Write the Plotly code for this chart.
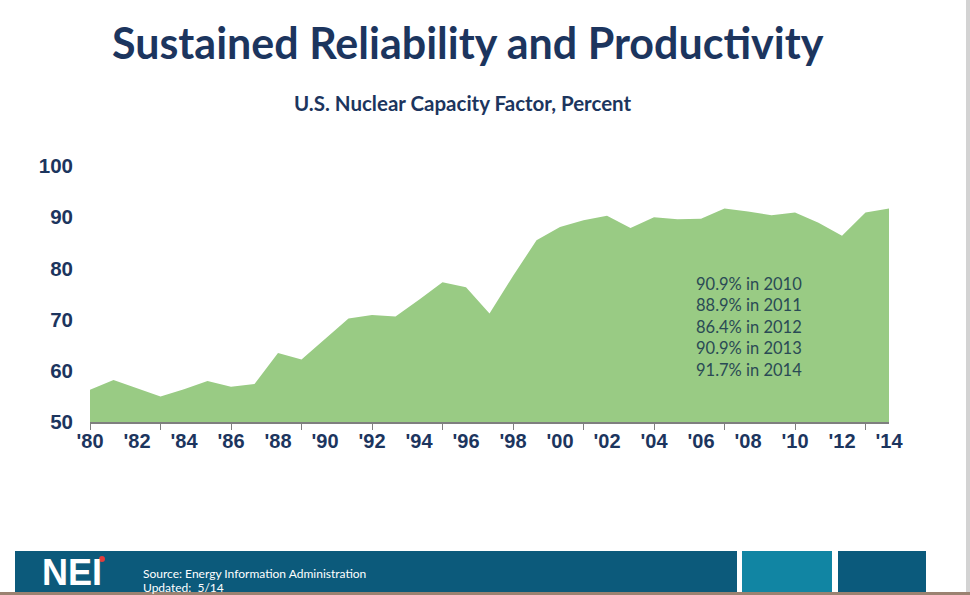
import plotly.graph_objects as go

# U.S. nuclear capacity factor, percent
years = list(range(1980, 2015))
capacity = [56.3, 58.2, 56.6, 55.0, 56.4, 58.0, 56.9, 57.4, 63.5, 62.2,
            66.2, 70.2, 70.9, 70.6, 73.9, 77.3, 76.3, 71.2, 78.5, 85.5,
            88.1, 89.4, 90.3, 87.9, 90.0, 89.6, 89.7, 91.7, 91.1, 90.4,
            90.9, 88.9, 86.4, 90.9, 91.7]

label_years = list(range(1980, 2015, 2))
label_text = ["'%02d" % (y % 100) for y in label_years]
y_ticks = [50, 60, 70, 80, 90, 100]

note_lines = ["90.9% in 2010", "88.9% in 2011", "86.4% in 2012",
              "90.9% in 2013", "91.7% in 2014"]

NAVY = "#1C355E"
W, H = 970, 595
L, R, T, B = 90, 81, 166, 173
PW, PH = W - L - R, H - T - B


def px(x):
    return (x - L) / PW


def py(y):
    return (H - B - y) / PH


fig = go.Figure()
fig.add_trace(go.Scatter(
    x=years, y=capacity, mode="lines", fill="tozeroy",
    fillcolor="#99CB84", line=dict(width=0, color="#99CB84"),
    hoverinfo="x+y", showlegend=False,
))
# invisible trace so the tick-mark axis is drawn
fig.add_trace(go.Scatter(x=[years[0], years[-1]], y=[50, 50], xaxis="x2",
                         mode="lines", line=dict(width=0), showlegend=False,
                         hoverinfo="skip"))

shapes = [
    # footer band
    dict(type="rect", xref="paper", yref="paper", x0=px(15), x1=px(737),
         y0=py(551), y1=py(600), fillcolor="#0C5A7B", line_width=0, layer="above"),
    dict(type="rect", xref="paper", yref="paper", x0=px(742), x1=px(832),
         y0=py(551), y1=py(600), fillcolor="#1185A3", line_width=0, layer="above"),
    dict(type="rect", xref="paper", yref="paper", x0=px(838), x1=px(926),
         y0=py(551), y1=py(600), fillcolor="#0B5A7C", line_width=0, layer="above"),
    dict(type="rect", xref="paper", yref="paper", x0=px(-5), x1=px(975),
         y0=py(592), y1=py(600), fillcolor="#9B8271", line_width=0, layer="above"),
    dict(type="rect", xref="paper", yref="paper", x0=px(966), x1=px(975),
         y0=py(-5), y1=py(592), fillcolor="#D3D3D3", line_width=0, layer="above"),
    dict(type="circle", xref="paper", yref="paper", x0=px(99), x1=px(105),
         y0=py(562), y1=py(556), fillcolor="#E23B3B", line_width=0, layer="above"),
]

annotations = [
    dict(text="<b>Sustained Reliability and Productivity</b>", x=px(468), y=py(42),
         xref="paper", yref="paper", showarrow=False, xanchor="center", yanchor="middle",
         font=dict(family="Lato", size=43, color=NAVY)),
    dict(text="<b>U.S. Nuclear Capacity Factor, Percent</b>", x=px(463), y=py(103),
         xref="paper", yref="paper", showarrow=False, xanchor="center", yanchor="middle",
         font=dict(family="Lato", size=20.5, color=NAVY)),
    dict(text="<br>".join(note_lines), x=px(694), y=py(272), xref="paper", yref="paper",
         showarrow=False, xanchor="left", yanchor="top", align="left",
         font=dict(family="Lato", size=16.5, color="#2A4A55")),
    dict(text="<b>NEI</b>", x=px(40), y=py(595), xref="paper", yref="paper",
         showarrow=False, xanchor="left", yanchor="bottom",
         font=dict(family="Liberation Sans", size=36, color="white")),
    dict(text="Source: Energy Information Administration", x=px(141), y=py(573),
         xref="paper", yref="paper", showarrow=False, xanchor="left", yanchor="middle",
         font=dict(family="Lato", size=12, color="white")),
    dict(text="Updated:  5/14", x=px(141), y=py(587),
         xref="paper", yref="paper", showarrow=False, xanchor="left", yanchor="middle",
         font=dict(family="Lato", size=12, color="white")),
]

fig.update_layout(
    width=W, height=H,
    margin=dict(l=L, r=R, t=T, b=B, pad=0),
    paper_bgcolor="white", plot_bgcolor="white",
    xaxis=dict(range=[1980, 2014], tickmode="array", tickvals=label_years,
               ticktext=label_text, ticks="", showgrid=False, zeroline=False,
               showline=True, linecolor="#7F7F7F", linewidth=2,
               tickfont=dict(family="Liberation Sans", size=20, color=NAVY, weight="bold")),
    xaxis2=dict(range=[1980, 2014], overlaying="x", anchor="y", side="bottom",
                tickmode="linear", tick0=1980, dtick=3, ticks="outside", ticklen=7,
                tickwidth=1, tickcolor="#7F7F7F", showticklabels=False,
                showgrid=False, zeroline=False, showline=False),
    yaxis=dict(range=[50, 100], tickmode="array", tickvals=y_ticks, ticks="",
               showgrid=False, zeroline=False, showline=False, ticklabelstandoff=16,
               tickfont=dict(family="Liberation Sans", size=20.5, color=NAVY, weight="bold")),
    shapes=shapes,
    annotations=annotations,
)

# drop the default page margin so the figure sits at the window's corner
fig.write_html("out.html", config={"displayModeBar": False},
               post_script="document.body.style.margin='0';")
